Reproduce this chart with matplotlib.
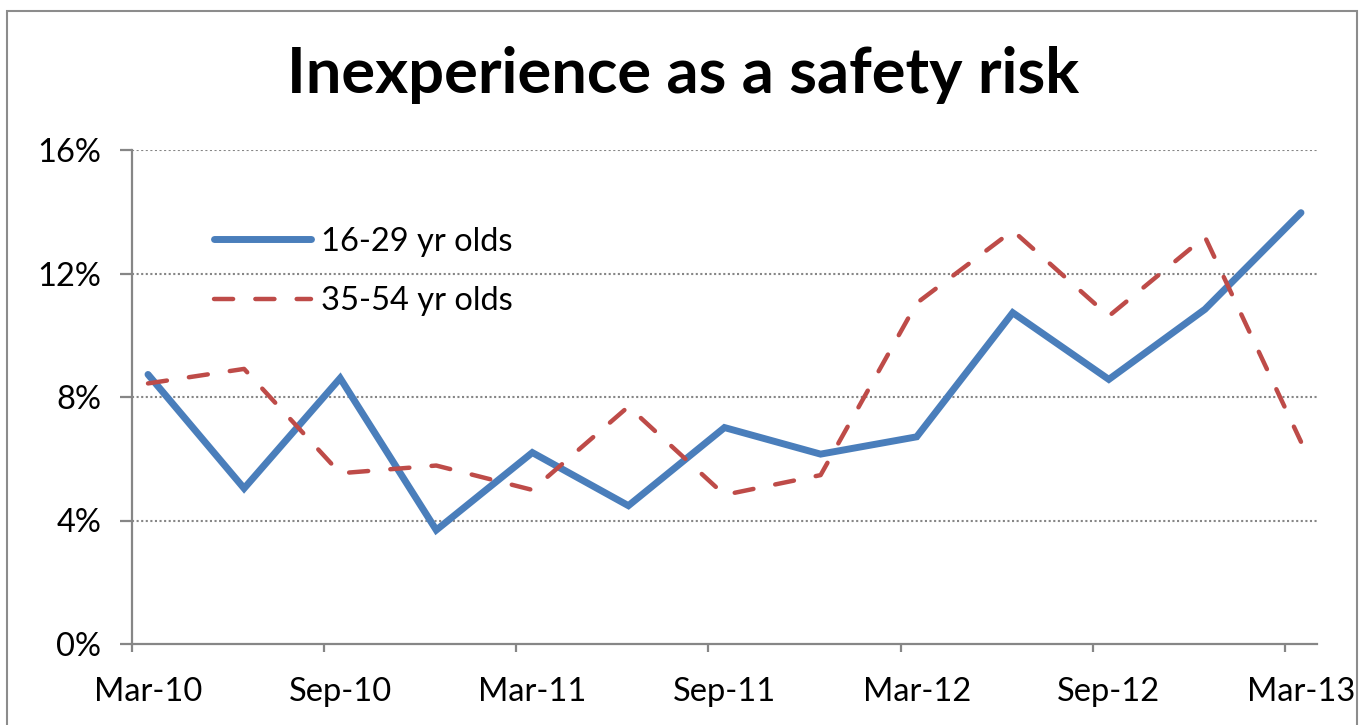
import numpy as np
import matplotlib
matplotlib.use('Agg')
import matplotlib.pyplot as plt
from matplotlib.patches import Rectangle
from matplotlib.ticker import FixedLocator, FuncFormatter

# quarterly survey points, Mar-10 .. Mar-13
quarters = ['Mar-10', 'Jun-10', 'Sep-10', 'Dec-10', 'Mar-11', 'Jun-11', 'Sep-11',
            'Dec-11', 'Mar-12', 'Jun-12', 'Sep-12', 'Dec-12', 'Mar-13']
young = [8.73, 5.04, 8.61, 3.69, 6.20, 4.48, 7.01, 6.15, 6.71, 10.73, 8.57, 10.84, 13.97]
middle = [8.44, 8.91, 5.53, 5.78, 4.99, 7.69, 4.83, 5.47, 11.04, 13.39, 10.62, 13.19, 6.55]
labelQuarters = ['Mar-10', 'Sep-10', 'Mar-11', 'Sep-11', 'Mar-12', 'Sep-12', 'Mar-13']
yTicks = [0, 4, 8, 12, 16]

plt.rcParams['font.family'] = ['Lato', 'DejaVu Sans']

#months since Mar-10, points sit in the middle of their month slot
months = np.arange(len(quarters)) * 3 + 0.5

fig = plt.figure(figsize=(13.61, 7.25), dpi=100)
ax = fig.add_axes([132/1361, 1 - 644/725, (1317-132)/1361, (644-150)/725])

ax.plot(months, young, color='#4a7ebb', linewidth=5.0, solid_capstyle='round',
        solid_joinstyle='miter', label='16-29 yr olds', zorder=3)
ax.plot(months, middle, color='#be4b48', linewidth=3.2, dashes=(4.3, 5),
        dash_capstyle='round', label='35-54 yr olds', zorder=3)

ax.set_xlim(0, 37)
ax.set_ylim(0, 16)

for s in ['top', 'right']:
	ax.spines[s].set_visible(False)
for s in ['left', 'bottom']:
	ax.spines[s].set_color('#868686')
	ax.spines[s].set_linewidth(1.6)

ax.set_yticks(yTicks)
ax.yaxis.set_major_formatter(FuncFormatter(lambda v, p: '%d%%' % v))
ax.tick_params(axis='y', length=9, width=1.6, color='#868686', pad=13, labelsize=23.5)

ax.xaxis.set_major_locator(FixedLocator(np.arange(0, 37, 6)))
ax.xaxis.set_minor_locator(FixedLocator(np.arange(0, 37, 6) + 0.5))
ax.set_xticklabels([], minor=False)
ax.set_xticklabels(labelQuarters, minor=True)
ax.tick_params(axis='x', which='major', length=6, width=1.6, color='#868686')
ax.tick_params(axis='x', which='minor', length=0, pad=24, labelsize=23.5)

for v in yTicks[1:]:
	ax.axhline(v, color='#868686', linestyle=(0, (1, 1.2)), linewidth=1.5, zorder=1)

leg = ax.legend(loc='upper left', bbox_to_anchor=(0.044, 0.904), frameon=False,
                fontsize=23.5, handlelength=3.0, handletextpad=0.3, labelspacing=0.9)

fig.text(0.502, 1 - 93/725, 'Inexperience as a safety risk', ha='center', va='baseline',
         fontsize=45.5, fontweight='bold')

#outer chart frame
fig.patches.append(Rectangle((7/1361, -0.05), (1357-7)/1361, 1.05 - 11/725,
                             transform=fig.transFigure, fill=False,
                             edgecolor='#8c8c8c', linewidth=1.5))

fig.savefig('out.png', dpi=100)
